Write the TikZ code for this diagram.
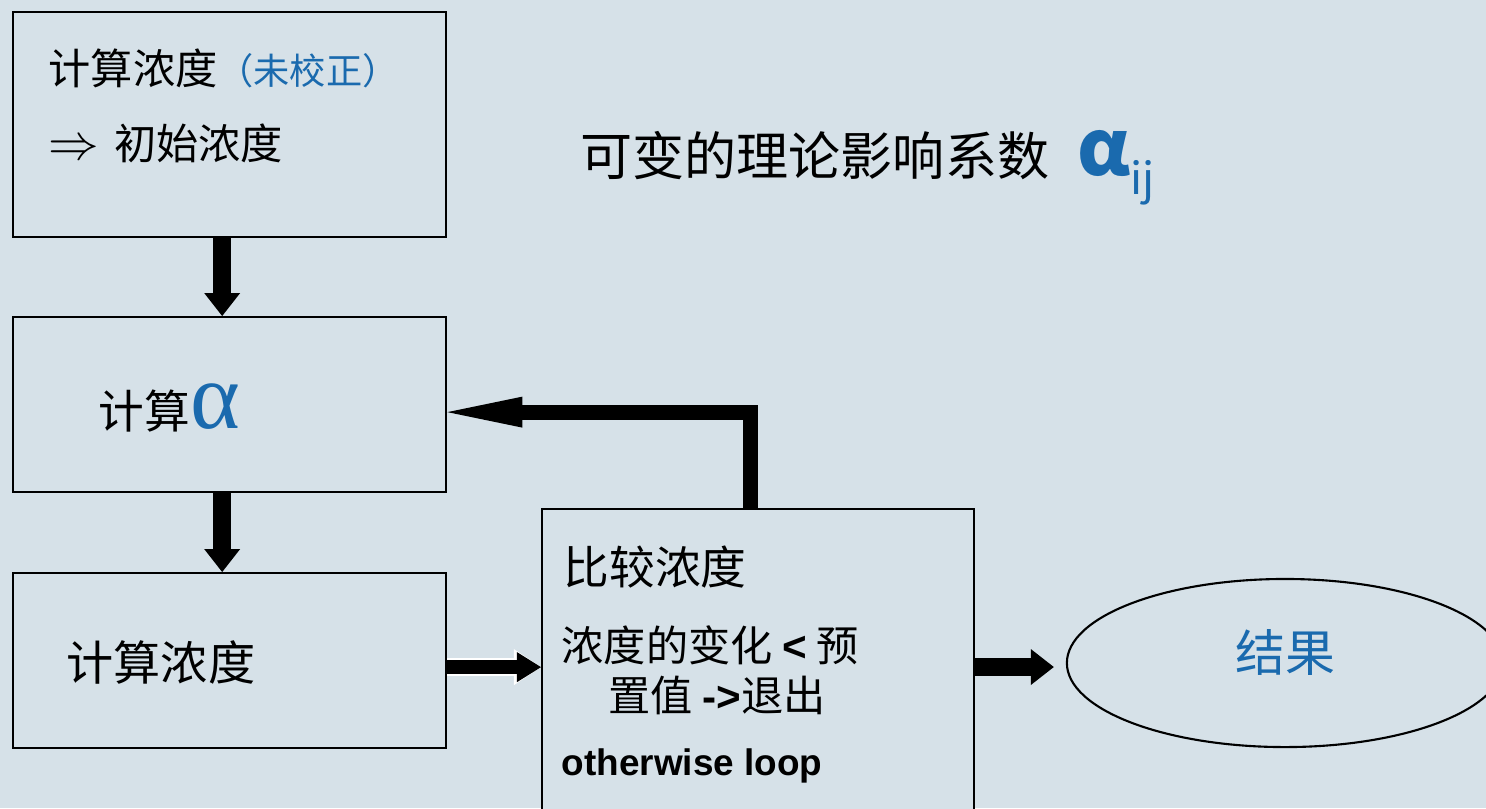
\documentclass[tikz,border=0pt]{standalone}
\usepackage{fontspec}
\setmainfont{Liberation Sans}
\newfontfamily\cjk{Noto Sans CJK SC}
\newfontfamily\greekserif{Liberation Serif}
\usetikzlibrary{arrows.meta,positioning,shapes.geometric}
\definecolor{SlideBg}{HTML}{D6E1E8}
\definecolor{SlideBlue}{HTML}{1A6AAE}
\tikzset{
  stepbox/.style={
    draw=black,
    line width=.6pt,
    fill=SlideBg,
    anchor=north west,
    inner sep=0pt
  },
  steptext/.style={anchor=west,inner sep=0pt,font=\cjk\fontsize{13}{15}\selectfont},
  notetext/.style={anchor=west,inner sep=0pt,font=\cjk\fontsize{12}{14}\selectfont},
  fatarrow/.style={-{Triangle[length=.23cm,width=.36cm,line width=0pt]},line width=.18cm,draw=black},
  looparrow/.style={-{Triangle[length=.75cm,width=.31cm,line width=0pt]},line width=.15cm,draw=black},
  outlinearrow/.style={
    -{Triangle[length=.24cm,width=.30cm,line width=0pt]},line width=.14cm,draw=black,
    preaction={draw=white,line width=.18cm,-{Triangle[length=.27cm,width=.36cm,line width=0pt]}}
  }
}

\begin{document}
\begin{tikzpicture}[x=.01cm,y=-.01cm]
  \fill[SlideBg] (0,0) rectangle (1486,808);
  \useasboundingbox (0,0) rectangle (1486,808);
  \clip (0,0) rectangle (1486,808);

  % Left column of steps.
  \node[stepbox,minimum width=4.33cm,minimum height=2.25cm] (init) at (12,11) {};
  \node[stepbox,minimum width=4.33cm,minimum height=1.75cm] (calc) at (12,316) {};
  \node[stepbox,minimum width=4.33cm,minimum height=1.75cm] (conc) at (12,572) {};

  \node[steptext,font=\cjk\fontsize{12}{14}\selectfont] (t1) at (48,68)
    {计算浓度{\color{SlideBlue}\fontsize{10.3}{12}\selectfont（未校正）}};
  \node[steptext,font=\cjk\fontsize{12}{14}\selectfont] (t2) at (48,143)
    {{\fontsize{13.5}{14}\selectfont$\Rightarrow$}\hspace{.35em}初始浓度};
  \node[steptext] (t3) at (98,408)
    {计算{\color{SlideBlue}\greekserif\fontsize{27}{29}\selectfont α}};
  \node[steptext,font=\cjk\fontsize{13.4}{15}\selectfont] (t4) at (66,662) {计算浓度};

  % Comparison box, cut off by the lower edge.
  \node[stepbox,minimum width=4.32cm,minimum height=3.2cm] (cmp) at (541,508) {};
  \node[steptext] (t5) at (563,567) {比较浓度};
  \node[notetext] (t6) at (561,645) {浓度的变化 \textbf{\fontspec{Liberation Sans}<} 预};
  \node[notetext] (t7) at (608,695) {置值 \textbf{\fontspec{Liberation Sans}->}退出};
  \node[anchor=west,inner sep=0pt,font=\bfseries\fontsize{10.5}{12}\selectfont] (t8) at (561,766) {otherwise loop};

  \node[draw=black,line width=.6pt,ellipse,minimum width=4.36cm,minimum height=1.68cm] (result) at (1285,663) {};
  \node[text=SlideBlue,font=\cjk\fontsize{14.2}{16}\selectfont,inner sep=0pt] (t9) at (1285,652) {结果};

  \node[anchor=base west,inner sep=0pt,font=\cjk\fontsize{14.8}{17}\selectfont] (title) at (580,175)
    {可变的理论影响系数\hspace{.55em}{\color{SlideBlue}\bfseries\fontsize{22}{24}\selectfont α\raisebox{-.25em}{\mdseries\fontsize{12.5}{13}\selectfont ij}}};

  \coordinate (a3) at ([yshift=-.065cm]conc.east);
  \coordinate (a4) at ([xshift=-.12cm,yshift=-.04cm]result.west);

  \draw[fatarrow] ([xshift=-.075cm]init.south) -- ([xshift=-.075cm]calc.north);
  \draw[fatarrow] ([xshift=-.075cm]calc.south) -- ([xshift=-.075cm]conc.north);
  \draw[outlinearrow] (a3) -- (cmp.west |- a3);
  \draw[fatarrow] (cmp.east |- a4) -- (a4);
  \draw[looparrow] ([xshift=-.08cm]cmp.north) |- ([yshift=-.075cm]calc.east);
\end{tikzpicture}
\end{document}
